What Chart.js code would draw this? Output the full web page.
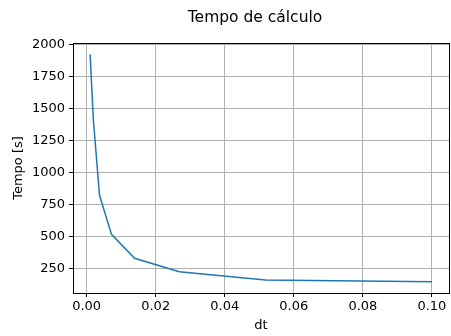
<!DOCTYPE html>
<html>
<head>
<meta charset="utf-8">
<script src="https://cdn.jsdelivr.net/npm/chart.js@4"></script>
<style>
  body { margin: 0; background: #fff; }
  #wrap { width: 451px; height: 336px; }
</style>
</head>
<body>
<div id="wrap"><canvas id="tempoChart" width="451" height="336"></canvas></div>
<script>
// passo de tempo (dt) e tempo de cálculo correspondente
const dtValues = [0.001, 0.00193, 0.00373, 0.0072, 0.01389, 0.02683, 0.05179, 0.1];
const tempoValues = [1925, 1420, 825, 520, 333, 229, 164, 151];
const xTicks = [0.00, 0.02, 0.04, 0.06, 0.08, 0.10];
const yTicks = [250, 500, 750, 1000, 1250, 1500, 1750, 2000];
const chartTitle = 'Tempo de cálculo';

const fontFamily = '"DejaVu Sans", sans-serif';

// limites com margem de 5% em cada lado
const span = (arr) => Math.max(...arr) - Math.min(...arr);
const xMin = Math.min(...dtValues) - 0.05 * span(dtValues);
const xMax = Math.max(...dtValues) + 0.05 * span(dtValues);
const yMin = Math.min(...tempoValues) - 0.05 * span(tempoValues);
const yMax = Math.max(...tempoValues) + 0.05 * span(tempoValues);

// moldura completa em volta da área do gráfico + título centrado
const frame = {
    id: 'frame',
    afterDraw(chart) {
        const { ctx, chartArea: a } = chart;
        ctx.save();
        ctx.strokeStyle = '#000';
        ctx.lineWidth = 1;
        ctx.strokeRect(Math.round(a.left) + 0.5, Math.round(a.top) + 0.5,
            Math.round(a.right - a.left), Math.round(a.bottom - a.top));

        ctx.fillStyle = '#000';
        ctx.font = '15.5px ' + fontFamily;
        ctx.textAlign = 'center';
        ctx.textBaseline = 'middle';
        ctx.fillText(chartTitle, (a.left + a.right) / 2 - 6, 18);
        ctx.restore();
    }
};

const ctx = document.getElementById('tempoChart').getContext('2d');
new Chart(ctx, {
    type: 'line',
    data: {
        datasets: [{
            label: 'Tempo',
            data: dtValues.map((dt, i) => ({ x: dt, y: tempoValues[i] })),
            borderColor: '#1f77b4',
            borderWidth: 1.5,
            pointRadius: 0,
            fill: false,
            tension: 0
        }]
    },
    options: {
        responsive: false,
        devicePixelRatio: 1,
        animation: false,
        layout: { padding: { top: 43, right: 2, left: 0, bottom: 0 } },
        plugins: {
            legend: { display: false },
            tooltip: { enabled: false },
            title: { display: false }
        },
        scales: {
            x: {
                type: 'linear',
                min: xMin,
                max: xMax,
                afterBuildTicks: (scale) => { scale.ticks = xTicks.map(v => ({ value: v })); },
                afterFit: (scale) => {
                    scale.height = 43;
                    scale.paddingRight = 0;
                },
                ticks: {
                    color: '#000',
                    padding: 2,
                    maxRotation: 0,
                    font: { family: fontFamily, size: 13 },
                    callback: (v) => v.toFixed(2)
                },
                grid: { color: '#b0b0b0', lineWidth: 1, tickColor: '#000', tickLength: 4 },
                border: { color: '#000', width: 1 },
                title: {
                    display: true,
                    text: 'dt',
                    color: '#000',
                    font: { family: fontFamily, size: 13 },
                    padding: { top: 0, bottom: 3 }
                }
            },
            y: {
                type: 'linear',
                min: yMin,
                max: yMax,
                afterBuildTicks: (scale) => { scale.ticks = yTicks.map(v => ({ value: v })); },
                afterFit: (scale) => { scale.width = 73; },
                ticks: {
                    color: '#000',
                    padding: 4,
                    font: { family: fontFamily, size: 13 },
                    callback: (v) => String(v)
                },
                grid: { color: '#b0b0b0', lineWidth: 1, tickColor: '#000', tickLength: 4 },
                border: { color: '#000', width: 1 },
                title: {
                    display: true,
                    text: 'Tempo [s]',
                    color: '#000',
                    font: { family: fontFamily, size: 13 },
                    padding: { top: 11, bottom: 0 }
                }
            }
        }
    },
    plugins: [frame]
});
</script>
</body>
</html>
